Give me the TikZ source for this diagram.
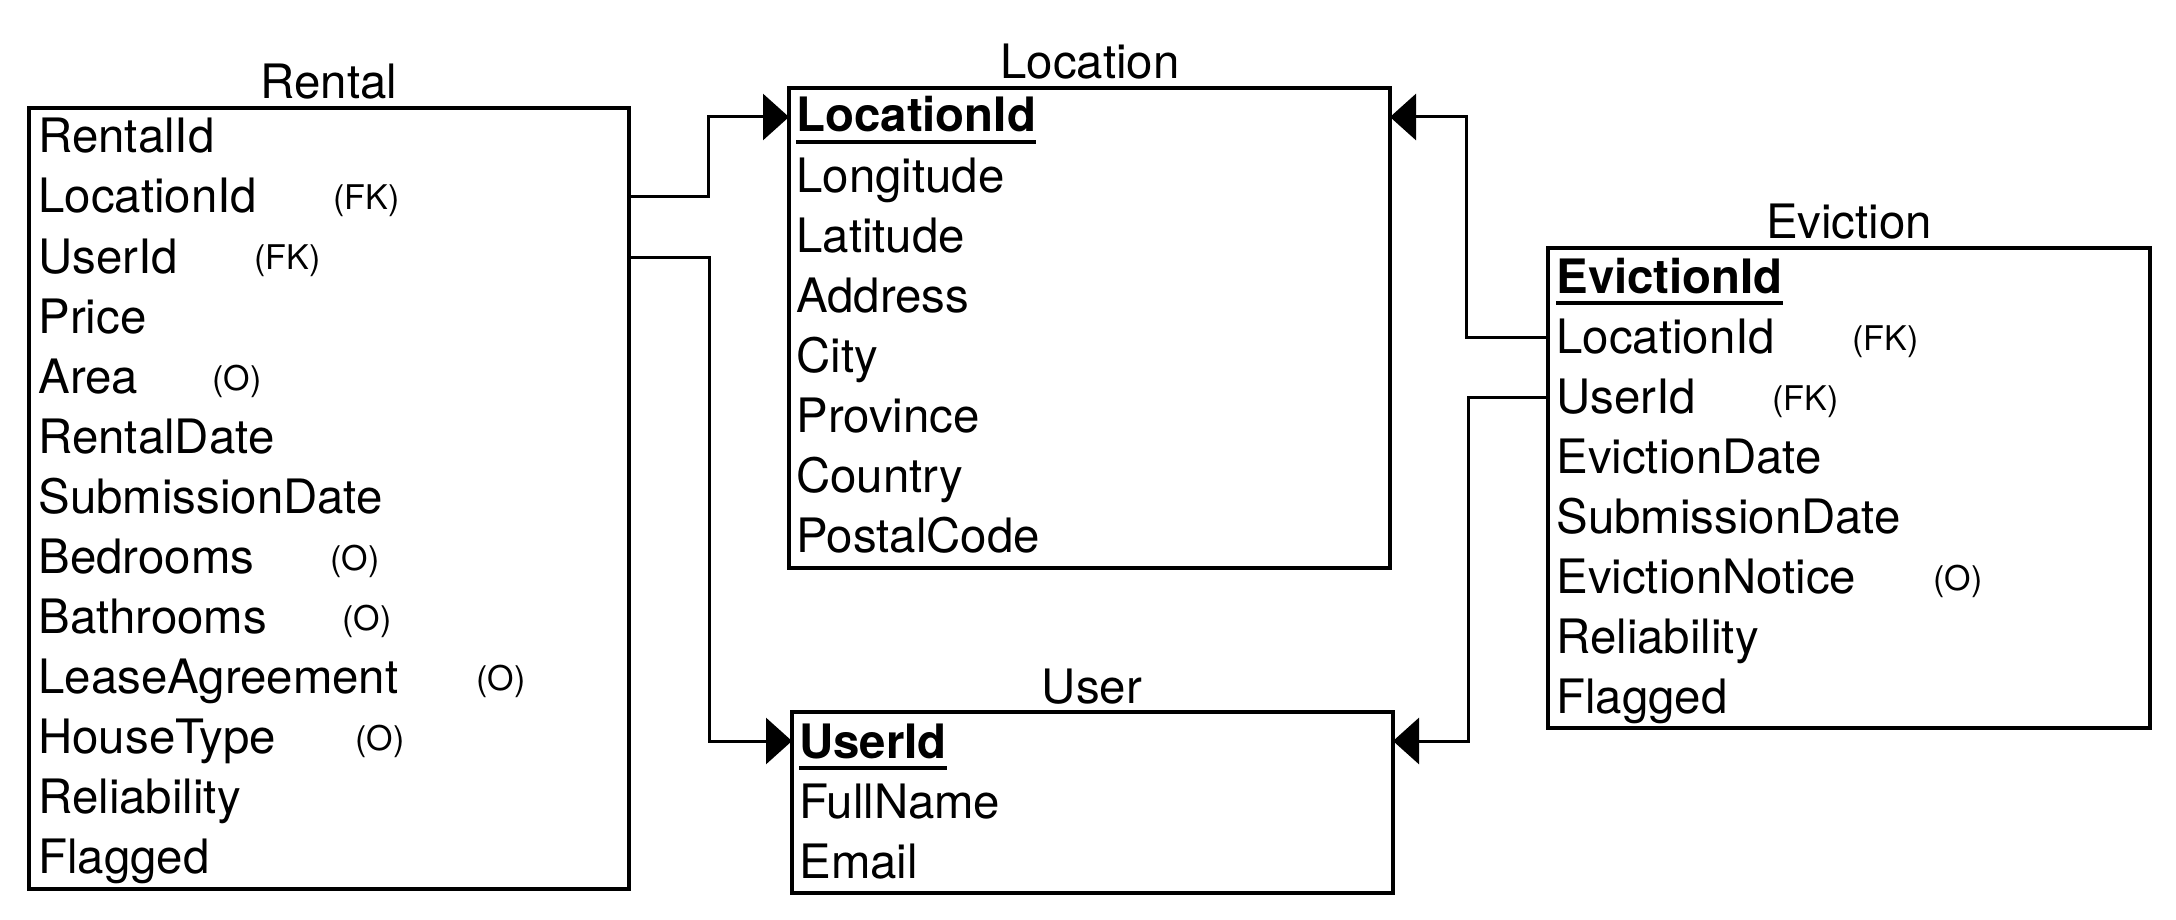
\documentclass[tikz,border=0pt]{standalone}
\usepackage{fontspec}
\setmainfont{TeX Gyre Heros}
\usetikzlibrary{arrows.meta}
\newcommand{\mainfs}{\fontsize{23.7pt}{28pt}\selectfont}
\newcommand{\smallfs}{\fontsize{17pt}{20pt}\selectfont}
\begin{document}
\begin{tikzpicture}[x=0.5pt,y=-0.5pt,
  tbl/.style={draw, line width=1.75pt, anchor=north west, inner sep=0pt, outer sep=0pt},
  fld/.style={anchor=base west, inner sep=0pt, font=\mainfs},
  tag/.style={anchor=base west, inner sep=0pt, font=\smallfs},
  ttl/.style={anchor=base, inner sep=0pt, font=\mainfs},
  pk/.style={anchor=base west, inner sep=0pt, font=\mainfs\bfseries},
  conn/.style={line width=1.5pt, -{Triangle[length=13pt,width=23pt]}}]
\useasboundingbox (0,0) rectangle (2176,920);

% Tables
\node[tbl, minimum width=300pt, minimum height=390.5pt] (rental) at (29,108) {};
\node[tbl, minimum width=300.5pt, minimum height=240pt] (location) at (789,88) {};
\node[tbl, minimum width=300.5pt, minimum height=90.5pt] (user) at (792,712) {};
\node[tbl, minimum width=301pt, minimum height=240pt] (eviction) at (1548,248) {};

% Titles
\node[ttl] (tRental) at (329,99) {Rental};
\node[ttl] (tLocation) at (1090,79) {Location};
\node[ttl] (tUser) at (1092,703) {User};
\node[ttl] (tEviction) at (1849,238) {Eviction};

% Rental fields
\node[fld] (r1) at (38,153) {RentalId};
\node[fld] (r2) at (38,213) {LocationId};
\node[fld] (r3) at (38,273) {UserId};
\node[fld] (r4) at (38,333) {Price};
\node[fld] (r5) at (38,393) {Area};
\node[fld] (r6) at (38,453) {RentalDate};
\node[fld] (r7) at (38,513) {SubmissionDate};
\node[fld] (r8) at (38,573) {Bedrooms};
\node[fld] (r9) at (38,633) {Bathrooms};
\node[fld] (r10) at (38,693) {LeaseAgreement};
\node[fld] (r11) at (38,753) {HouseType};
\node[fld] (r12) at (38,813) {Reliability};
\node[fld] (r13) at (38,873) {Flagged};
\node[tag] (r2t) at (333,210) {(FK)};
\node[tag] (r3t) at (254,270) {(FK)};
\node[tag] (r5t) at (212,390) {(O)};
\node[tag] (r8t) at (330,570) {(O)};
\node[tag] (r9t) at (342,630) {(O)};
\node[tag] (r10t) at (476,690) {(O)};
\node[tag] (r11t) at (355,750) {(O)};

% Location fields
\node[pk] (l1) at (796,132) {LocationId};
\draw[line width=2pt] ([yshift=-5pt]l1.base west) -- ([yshift=-5pt]l1.base east);
\node[fld] (l2) at (796,192) {Longitude};
\node[fld] (l3) at (796,252) {Latitude};
\node[fld] (l4) at (796,312) {Address};
\node[fld] (l5) at (796,372) {City};
\node[fld] (l6) at (796,432) {Province};
\node[fld] (l7) at (796,492) {Country};
\node[fld] (l8) at (796,552) {PostalCode};

% User fields
\node[pk] (u1) at (799,758) {UserId};
\draw[line width=2pt] ([yshift=-5pt]u1.base west) -- ([yshift=-5pt]u1.base east);
\node[fld] (u2) at (799,818) {FullName};
\node[fld] (u3) at (799,878) {Email};

% Eviction fields
\node[pk] (e1) at (1556,293) {EvictionId};
\draw[line width=2pt] ([yshift=-5pt]e1.base west) -- ([yshift=-5pt]e1.base east);
\node[fld] (e2) at (1556,353) {LocationId};
\node[fld] (e3) at (1556,413) {UserId};
\node[fld] (e4) at (1556,473) {EvictionDate};
\node[fld] (e5) at (1556,533) {SubmissionDate};
\node[fld] (e6) at (1556,593) {EvictionNotice};
\node[fld] (e7) at (1556,653) {Reliability};
\node[fld] (e8) at (1556,713) {Flagged};
\node[tag] (e2t) at (1852,350) {(FK)};
\node[tag] (e3t) at (1772,410) {(FK)};
\node[tag] (e6t) at (1933,590) {(O)};

% Connector end points
\coordinate (rLoc) at (rental.east |- 0,197);
\coordinate (rUsr) at (rental.east |- 0,257);
\coordinate (lIn1) at (location.west |- 0,117);
\coordinate (lIn2) at (location.east |- 0,117);
\coordinate (uIn1) at (user.west |- 0,741);
\coordinate (uIn2) at (user.east |- 0,741);
\coordinate (eLoc) at (eviction.west |- 0,337);
\coordinate (eUsr) at (eviction.west |- 0,397);

\draw[conn] (rLoc) -- (708,197) |- (lIn1);
\draw[conn] (rUsr) -- (709,257) |- (uIn1);
\draw[conn] (eLoc) -- (1466,337) |- (lIn2);
\draw[conn] (eUsr) -- (1468,397) |- (uIn2);
\end{tikzpicture}
\end{document}
